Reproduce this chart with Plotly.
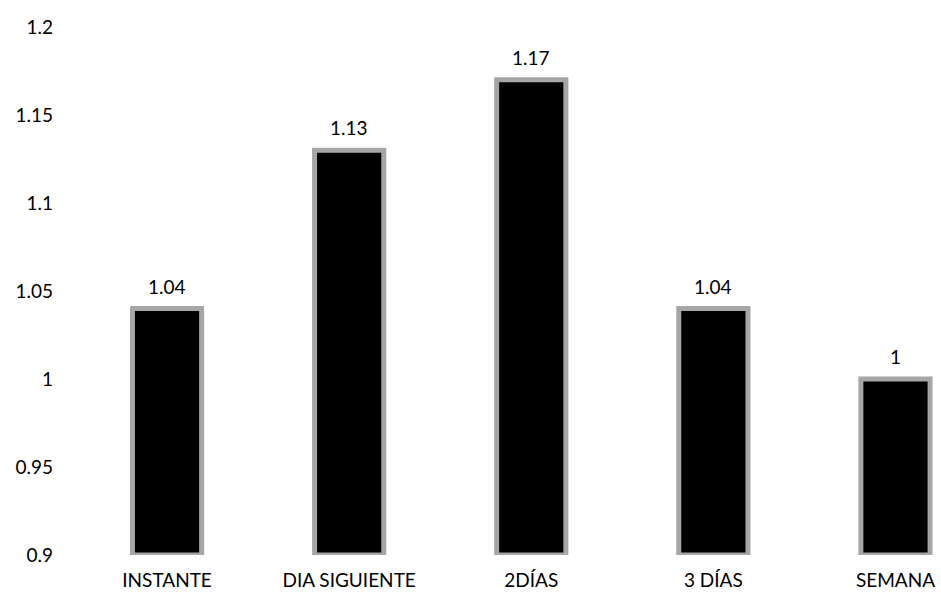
import plotly.graph_objects as go

categories = ["INSTANTE", "DIA SIGUIENTE", "2DÍAS", "3 DÍAS", "SEMANA"]
values = [1.04, 1.13, 1.17, 1.04, 1.00]
value_labels = ["1.04", "1.13", "1.17", "1.04", "1"]
tick_vals = [0.9, 0.95, 1.0, 1.05, 1.1, 1.15, 1.2]
tick_text = ["0.9", "0.95", "1", "1.05", "1.1", "1.15", "1.2"]

axis_floor = 0.9
FONT = "Lato, Open Sans, sans-serif"
FS = 19

fig = go.Figure()
fig.add_trace(go.Bar(
    x=categories,
    y=[v - axis_floor for v in values],
    base=axis_floor,
    width=0.38,
    marker=dict(color="#000000", line=dict(color="#a6a6a6", width=5)),
    cliponaxis=False,
    hoverinfo="skip",
))

for cat, v, lab in zip(categories, values, value_labels):
    fig.add_annotation(x=cat, y=v, text=lab, showarrow=False,
                       yanchor="bottom", yshift=9,
                       font=dict(family=FONT, size=FS, color="#000000"))

fig.update_layout(
    width=941, height=599,
    margin=dict(l=76, r=0, t=27, b=44),
    paper_bgcolor="white", plot_bgcolor="white",
    showlegend=False,
    font=dict(family=FONT, size=FS, color="#000000"),
    xaxis=dict(range=[-0.5, 4.25], showgrid=False, showline=False,
               zeroline=False, ticks="", ticklabelstandoff=12,
               tickfont=dict(family=FONT, size=FS, color="#000000")),
    yaxis=dict(range=[0.9, 1.2], tickvals=tick_vals, ticktext=tick_text,
               showgrid=False, showline=False, zeroline=False, ticks="",
               ticklabelstandoff=22,
               tickfont=dict(family=FONT, size=FS, color="#000000")),
)

fig.write_html("out.html")
